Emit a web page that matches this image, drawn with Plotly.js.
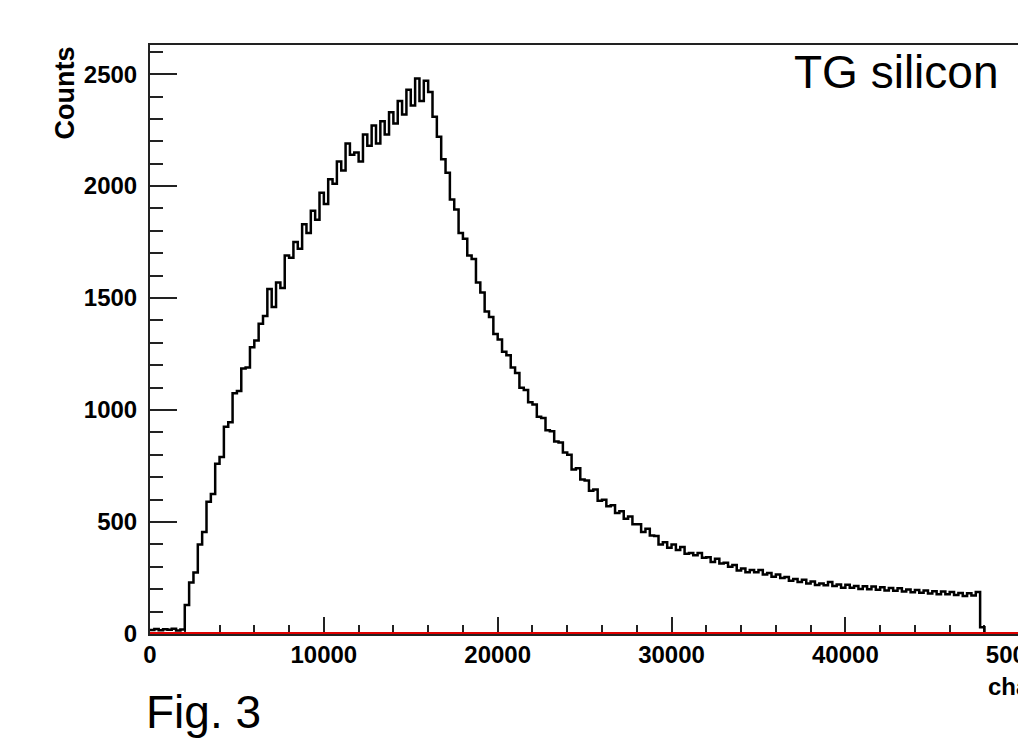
<!DOCTYPE html>
<html>
<head>
<meta charset="utf-8">
<script src="https://cdn.plot.ly/plotly-3.0.1.min.js"></script>
<style>
  html, body { margin: 0; padding: 0; overflow: hidden; background: #fff; }
  #chart { width: 1100px; height: 746px; }
</style>
</head>
<body>
<div id="chart"></div>
<script>
// Histogram: bin width in channels, counts per bin (bins start at 0)
const binWidth = 250;
const counts = [
  18, 22, 17, 21, 19, 23, 16, 20,
  130, 230, 275, 400, 455, 590, 625, 760, 790, 925, 945, 1075,
  1085, 1185, 1190, 1280, 1310, 1385, 1420, 1540, 1460, 1570,
  1545, 1690, 1680, 1750, 1720, 1830, 1790, 1890, 1850, 1970,
  1920, 2030, 2010, 2110, 2070, 2190, 2140, 2150, 2110, 2230,
  2180, 2270, 2190, 2290, 2230, 2330, 2280, 2380, 2320, 2430,
  2360, 2480, 2380, 2470, 2420,
  2310, 2220, 2120, 2060, 1940, 1895, 1790, 1765, 1690, 1675,
  1570, 1525, 1440, 1415, 1340, 1315, 1260, 1245, 1190, 1165,
  1100, 1090, 1035, 1025, 970, 965, 910, 905, 860, 855,
  810, 800, 735, 740, 690, 685, 640, 645, 595, 600,
  570, 575, 540, 548, 515, 525, 490, 490, 455, 470,
  440, 438, 400, 410, 385, 400, 375, 388, 358, 362,
  352, 362, 340, 343, 322, 336, 315, 318, 300, 308,
  284, 292, 276, 286, 276, 286, 266, 272, 256, 266,
  250, 254, 238, 246, 232, 242, 226, 234, 219, 226,
  218, 232, 214, 221, 207, 220, 206, 214, 201, 213,
  200, 212, 198, 209, 194, 205, 193, 204, 190, 199,
  186, 197, 184, 194, 181, 191, 178, 190, 177, 188,
  174, 183, 170, 182, 172, 188, 30,
  0, 0, 0, 0, 0, 0, 0, 0, 0, 0, 0, 0, 0, 0, 0, 0
];
// Red function drawn along zero
const fitX = [0, 52000];
const fitY = [0, 0];

const xTickVals = [0, 10000, 20000, 30000, 40000, 50000];
const yTickVals = [0, 500, 1000, 1500, 2000, 2500];

const texts = {
  ytitle: 'Counts',
  xtitle: 'channel',
  label: 'TG silicon',
  fig: 'Fig. 3'
};

// Build step edges
const hx = [], hy = [];
for (let i = 0; i < counts.length; i++) { hx.push(i * binWidth); hy.push(counts[i]); }
hx.push(counts.length * binWidth); hy.push(counts[counts.length - 1]);

// Layout geometry (px)
const W = 1100, H = 746;
const L = 150, T = 45, PW = 904, PH = 589;
const px2x = p => (p - L) / PW;
const py2y = p => (T + PH - p) / PH;

const tickFont = { family: 'Liberation Sans, Arial, sans-serif', size: 24, color: '#000', weight: 'bold' };

const data = [
  {
    x: hx, y: hy, type: 'scatter', mode: 'lines',
    line: { shape: 'hv', color: '#000', width: 2.5 },
    hoverinfo: 'skip'
  },
  {
    x: fitX, y: fitY, type: 'scatter', mode: 'lines',
    line: { color: '#e00000', width: 4 },
    hoverinfo: 'skip'
  }
];

const layout = {
  width: W, height: H,
  margin: { l: L, r: W - L - PW, t: T, b: H - T - PH, pad: 0 },
  paper_bgcolor: '#fff', plot_bgcolor: '#fff',
  showlegend: false,
  xaxis: {
    range: [0, 52000],
    showgrid: false, zeroline: false,
    showline: true, mirror: true, linecolor: '#222', linewidth: 2,
    ticks: 'inside', ticklen: 17, tickwidth: 2, tickcolor: '#222',
    tickvals: xTickVals, ticktext: xTickVals.map(String),
    minor: { ticks: 'inside', ticklen: 9, tickwidth: 2, tickcolor: '#222', dtick: 2000, showgrid: false },
    tickfont: tickFont,
    ticklabelstandoff: -2,
    layer: 'below traces'
  },
  yaxis: {
    range: [0, 2630],
    showgrid: false, zeroline: false,
    showline: true, mirror: true, linecolor: '#222', linewidth: 2,
    ticks: 'inside', ticklen: 27, tickwidth: 2, tickcolor: '#222',
    tickvals: yTickVals, ticktext: yTickVals.map(String),
    minor: { ticks: 'inside', ticklen: 13, tickwidth: 2, tickcolor: '#222', dtick: 100, showgrid: false },
    tickfont: tickFont,
    ticklabelstandoff: 6,
    layer: 'below traces'
  },
  annotations: [
    {
      text: texts.ytitle, textangle: -90, showarrow: false,
      xref: 'paper', yref: 'paper', x: px2x(64), y: 1,
      xanchor: 'center', yanchor: 'top',
      font: { family: 'Liberation Sans, Arial, sans-serif', size: 27, color: '#000', weight: 'bold' }
    },
    {
      text: texts.xtitle, showarrow: false,
      xref: 'paper', yref: 'paper', x: px2x(986), y: py2y(686),
      xanchor: 'left', yanchor: 'middle',
      font: { family: 'Liberation Sans, Arial, sans-serif', size: 24, color: '#000', weight: 'bold' }
    },
    {
      text: texts.label, showarrow: false,
      xref: 'paper', yref: 'paper', x: px2x(792), y: py2y(72),
      xanchor: 'left', yanchor: 'middle',
      font: { family: 'Liberation Sans, Arial, sans-serif', size: 46, color: '#000' }
    },
    {
      text: texts.fig, showarrow: false,
      xref: 'paper', yref: 'paper', x: px2x(144), y: py2y(712),
      xanchor: 'left', yanchor: 'middle',
      font: { family: 'Liberation Sans, Arial, sans-serif', size: 46, color: '#000' }
    }
  ]
};

Plotly.newPlot('chart', data, layout, { staticPlot: true, displayModeBar: false });
</script>
</body>
</html>
